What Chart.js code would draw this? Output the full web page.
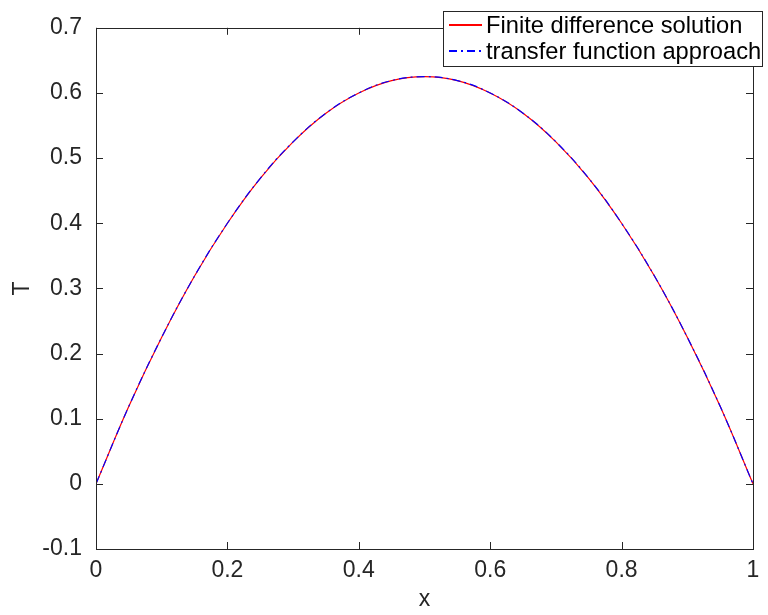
<!DOCTYPE html>
<html><head><meta charset="utf-8">
<script src="https://cdn.jsdelivr.net/npm/chart.js@4"></script>
<style>html,body{margin:0;padding:0;background:#fff}#wrap{width:768px;height:615px}</style>
</head><body><div id="wrap"><canvas id="c" width="768" height="615"></canvas></div>
<script>
const xValues = [0,0.05,0.1,0.15,0.2,0.25,0.3,0.35,0.4,0.45,0.5,0.55,0.6,0.65,0.7,0.75,0.8,0.85,0.9,0.95,1];
const finiteDiff = [0,0.119,0.225,0.319,0.4,0.469,0.525,0.569,0.6,0.619,0.625,0.619,0.6,0.569,0.525,0.469,0.4,0.319,0.225,0.119,0];
const transferFn = [0,0.119,0.225,0.319,0.4,0.469,0.525,0.569,0.6,0.619,0.625,0.619,0.6,0.569,0.525,0.469,0.4,0.319,0.225,0.119,0];
const xTicks = [0,0.2,0.4,0.6,0.8,1];
const yTicks = [-0.1,0,0.1,0.2,0.3,0.4,0.5,0.6,0.7];
const seriesNames = ['Finite difference solution','transfer function approach'];
const seriesColors = ['#ff0000','#0000ff'];
const seriesDash = [[],[8,4,2,4]];

const FONT = '"Liberation Sans", Arial, sans-serif';
const AX = '#262626';
const FS = 23;

const framePlugin = {
  id:'frame',
  afterDraw(chart){
    const {ctx, chartArea:a, scales:{x,y}} = chart;
    ctx.save();
    ctx.strokeStyle = AX; ctx.lineWidth = 1;
    ctx.strokeRect(Math.round(a.left)+0.5, Math.round(a.top)+0.5, Math.round(a.right-a.left), Math.round(a.bottom-a.top));
    const L = 7;
    ctx.beginPath();
    xTicks.forEach(v=>{
      const px = Math.round(x.getPixelForValue(v))+0.5;
      ctx.moveTo(px,a.bottom); ctx.lineTo(px,a.bottom-L);
      ctx.moveTo(px,a.top); ctx.lineTo(px,a.top+L);
    });
    yTicks.forEach(v=>{
      const py = Math.round(y.getPixelForValue(v))+0.5;
      ctx.moveTo(a.left,py); ctx.lineTo(a.left+L,py);
      ctx.moveTo(a.right,py); ctx.lineTo(a.right-L,py);
    });
    ctx.stroke();
    ctx.fillStyle = AX;
    ctx.font = FS+'px '+FONT;
    ctx.textAlign='center'; ctx.textBaseline='middle';
    ctx.fillText('x', (a.left+a.right)/2, 600);
    ctx.save(); ctx.translate(23,(a.top+a.bottom)/2); ctx.rotate(-Math.PI/2);
    ctx.fillText('T',0,0); ctx.restore();
    // legend
    const bx=443, by=11, bw=319, bh=55;
    ctx.fillStyle='#fff'; ctx.fillRect(bx,by,bw,bh);
    ctx.strokeStyle='#262626'; ctx.lineWidth=1; ctx.strokeRect(bx+0.5,by+0.5,bw,bh);
    const rows=[25,51];
    seriesNames.forEach((name,i)=>{
      ctx.fillStyle=seriesColors[i];
      const dash=seriesDash[i];
      if(!dash.length){ ctx.fillRect(449,rows[i]-1,33,2); }
      else {
        let p=449, k=0;
        while(p<482){
          const seg=dash[k%dash.length];
          if(k%2===0) ctx.fillRect(p,rows[i]-1,Math.min(seg,482-p),2);
          p+=seg; k++;
        }
      }
      ctx.fillStyle='#000'; ctx.textAlign='left'; ctx.textBaseline='middle';
      ctx.font='23.7px '+FONT;
      ctx.fillText(name,486,rows[i]+1);
    });
    ctx.restore();
  }
};

new Chart(document.getElementById('c'),{
  type:'line',
  data:{labels:xValues,datasets:[
    {label:seriesNames[0],order:1,data:xValues.map((v,i)=>({x:v,y:finiteDiff[i]})),borderColor:seriesColors[0],borderWidth:1.2,pointRadius:0,tension:0.4,fill:false},
    {label:seriesNames[1],order:0,data:xValues.map((v,i)=>({x:v,y:transferFn[i]})),borderColor:seriesColors[1],borderWidth:1.2,borderDash:seriesDash[1],pointRadius:0,tension:0.4,fill:false}
  ]},
  options:{
    responsive:false,animation:false,
    layout:{padding:{left:0,right:15,top:19,bottom:0}},
    plugins:{legend:{display:false},tooltip:{enabled:false}},
    scales:{
      x:{type:'linear',min:0,max:1,
        afterBuildTicks(s){s.ticks=xTicks.map(v=>({value:v}));},
        afterFit(s){s.height=66;},
        grid:{display:false,drawTicks:false},border:{display:false},
        ticks:{color:AX,font:{family:FONT,size:FS},padding:8,maxRotation:0,autoSkip:false,callback:v=>String(v)}},
      y:{type:'linear',min:-0.1,max:0.7,
        afterBuildTicks(s){s.ticks=yTicks.map(v=>({value:v}));},
        afterFit(s){s.width=96;},
        grid:{display:false,drawTicks:false},border:{display:false},
        ticks:{color:AX,font:{family:FONT,size:FS},padding:14,autoSkip:false,callback:v=>String(Math.round(v*10)/10)}}
    }
  },
  plugins:[framePlugin]
});
</script></body></html>
